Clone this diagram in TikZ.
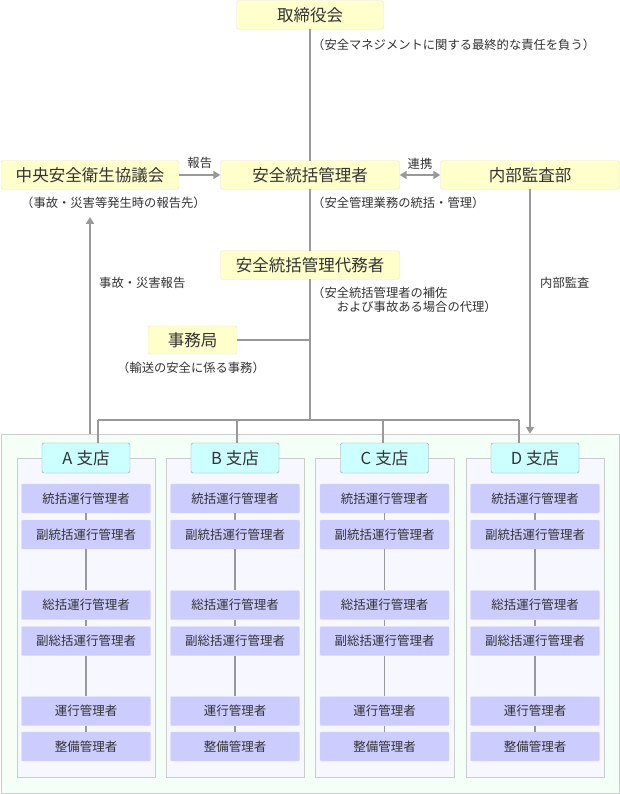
\documentclass[tikz,border=0pt]{standalone}
\usepackage{fontspec}
\setmainfont{Noto Sans CJK JP}
\usepackage{tikz}
\usetikzlibrary{arrows.meta}

\definecolor{ink}{HTML}{333333}
\definecolor{wire}{HTML}{999999}
\definecolor{cream}{HTML}{FFFFCC}
\definecolor{creamedge}{HTML}{E6E6CC}
\definecolor{zonefill}{HTML}{F4FFF8}
\definecolor{panelfill}{HTML}{F7F7FF}
\definecolor{tabfill}{HTML}{CCFFFF}
\definecolor{rolefill}{HTML}{CCCCFF}
\definecolor{roleedge}{HTML}{DCDCF8}

\begin{document}
\begin{tikzpicture}[x=1pt,y=-1pt,>={Triangle[length=7pt,width=8pt]},
head/.style={rectangle, draw=creamedge, fill=cream, rounded corners=1.5pt, minimum width=179pt, minimum height=28.5pt, inner sep=0pt, text=ink, font=\fontsize{16.5}{20}\selectfont},
note/.style={anchor=west, inner sep=0pt, text=ink, font=\fontsize{12.3}{14}\selectfont},
tag/.style={inner sep=0pt, text=ink, font=\fontsize{12.3}{14}\selectfont},
link/.style={draw=wire, line width=1.9pt},
panel/.style={rectangle, draw=black!20, fill=panelfill, minimum width=138.6pt, minimum height=319pt},
branch/.style={rectangle, draw=wire, fill=tabfill, rounded corners=2pt, minimum width=88pt, minimum height=30pt, inner sep=0pt, text=ink, font=\fontsize{16.5}{20}\selectfont},
role/.style={rectangle, draw=roleedge, fill=rolefill, rounded corners=1pt, minimum width=129pt, minimum height=29pt, inner sep=0pt, text=ink, font=\fontsize{12.5}{15}\selectfont},
]
\useasboundingbox (0,0) rectangle (620,794);
% branch zone
\node (zone) [rectangle, draw=black!20, fill=zonefill, minimum width=618pt, minimum height=359pt] at (310,613.5) {};

% head office
\node (board) [head, minimum width=147pt] at (310,15) {取締役会};
\node (safety) [head] at (310,175) {安全統括管理者};
\node (council) [head, minimum width=178pt] at (90,175) {中央安全衛生協議会};
\node (audit) [head] at (530,175) {内部監査部};
\node (deputy) [head] at (310,265) {安全統括管理代務者};
\node (office) [head, minimum width=89pt, minimum height=28pt] at (192.5,340) {事務局};

\node (nboard) [note] at (312,45) {（安全マネジメントに関する最終的な責任を負う）};
\node (ncouncil) [note] at (21,203) {（事故・災害等発生時の報告先）};
\node (nsafety) [note] at (312,203) {（安全管理業務の統括・管理）};
\node (ndeputy) [note, align=left] at (312,300) {（安全統括管理者の補佐\\\hspace*{2em}および事故ある場合の代理）};
\node (noffice) [note] at (117,368) {（輸送の安全に係る事務）};
\node (naccident) [note] at (99,283) {事故・災害報告};
\node (naudit) [note] at (540,283) {内部監査};

\coordinate (hub) at (310,420);
\coordinate (accup) at (90,217);

\draw [link] (board)--(safety);
\draw [link,->] (council)--node[tag, above=5pt]{報告}(safety);
\draw [link,<->] (safety)--node[tag, above=5pt]{連携}(audit);
\draw [link] (safety)--(deputy);
\draw [link] (deputy)--(hub);
\draw [link] (office)--(office -| hub);
\draw [link,->] (audit)--(audit |- zone.north);
\draw [link,->] (accup |- zone.north)--(accup);

% branches
\foreach \n/\x/\d in {A/86/98, B/235/237, C/384.5/383, D/535/519}{
  \node (panel\n) [panel] at (\x,617.5) {};
  \coordinate (drop\n) at (\d,420);
  \node (tab\n) [branch] at (\x,458) {\n\hspace{4pt}支店};
  \node (r1\n) [role] at (\x,498.5) {統括運行管理者};
  \node (r2\n) [role] at (\x,534.5) {副統括運行管理者};
  \node (r3\n) [role] at (\x,605) {総括運行管理者};
  \node (r4\n) [role] at (\x,641) {副総括運行管理者};
  \node (r5\n) [role] at (\x,711) {運行管理者};
  \node (r6\n) [role] at (\x,746.5) {整備管理者};
  \draw [link] (drop\n)--(drop\n |- tab\n.north);
  \draw [link] (r1\n)--(r2\n);
  \draw [link] (r2\n)--(r3\n);
  \draw [link] (r3\n)--(r4\n);
  \draw [link] (r4\n)--(r5\n);
  \draw [link] (r5\n)--(r6\n);
}
\draw [link] (dropA)--(dropD);
\end{tikzpicture}
\end{document}
